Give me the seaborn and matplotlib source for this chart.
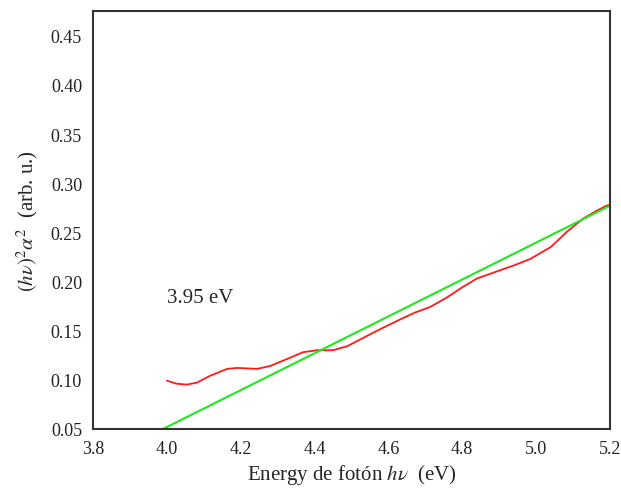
import numpy as np
import pandas as pd
import matplotlib
matplotlib.use('Agg')
import matplotlib.pyplot as plt
import seaborn as sns

# Datos
energia = [4.000, 4.025, 4.054, 4.081, 4.117, 4.163, 4.190, 4.244, 4.280, 4.325,
           4.369, 4.407, 4.450, 4.488, 4.524, 4.570, 4.630, 4.670, 4.713, 4.760,
           4.800, 4.840, 4.900, 4.945, 4.985, 5.040, 5.085, 5.128, 5.160, 5.190, 5.200]
absorcion = [0.099, 0.096, 0.095, 0.097, 0.104, 0.111, 0.112, 0.111, 0.114, 0.121,
             0.128, 0.130, 0.130, 0.134, 0.141, 0.150, 0.161, 0.168, 0.174, 0.184,
             0.194, 0.203, 0.211, 0.217, 0.223, 0.235, 0.251, 0.264, 0.271, 0.277, 0.278]

# Ajuste lineal (extrapolacion)
ajuste_x = [3.99, 5.20]
ajuste_y = [0.050, 0.277]

sns.set_style('white')
plt.rcParams['font.family'] = ['Liberation Serif', 'DejaVu Serif']
plt.rcParams['mathtext.fontset'] = 'stix'

fig = plt.figure(figsize=(6.21, 4.89), dpi=100)
ax = fig.add_axes([0.150, 0.121, 0.832, 0.854])

df = pd.DataFrame({'E': energia, 'a': absorcion})
sns.lineplot(data=df, x='E', y='a', color='#ff1a1a', linewidth=1.3, ax=ax)
sns.lineplot(x=ajuste_x, y=ajuste_y, color='#1ee81e', linewidth=1.5, ax=ax)

ax.set_xlim(3.8, 5.2)
ax.set_ylim(0.05, 0.475)
ax.set_xticks(np.arange(3.8, 5.21, 0.2))
ax.set_yticks(np.arange(0.05, 0.451, 0.05))
ax.set_xticklabels(['3.8', '4.0', '4.2', '4.4', '4.6', '4.8', '5.0', '5.2'])
ax.set_yticklabels(['%.2f' % v for v in np.arange(0.05, 0.451, 0.05)])
ax.tick_params(length=0, labelsize=13, pad=8, colors='#222222')

for s in ax.spines.values():
    s.set_color('#333333')
    s.set_linewidth(1.5)

ax.text(4.0, 0.184, '3.95 eV', fontsize=15, va='center', ha='left')

ax.set_xlabel(r'Energy de fotón $h\nu$  (eV)', fontsize=15, labelpad=4)
ax.set_ylabel(r'$(h\nu)^2\alpha^2$  (arb. u.)', fontsize=15, labelpad=8)

fig.savefig('out.png', dpi=100)
